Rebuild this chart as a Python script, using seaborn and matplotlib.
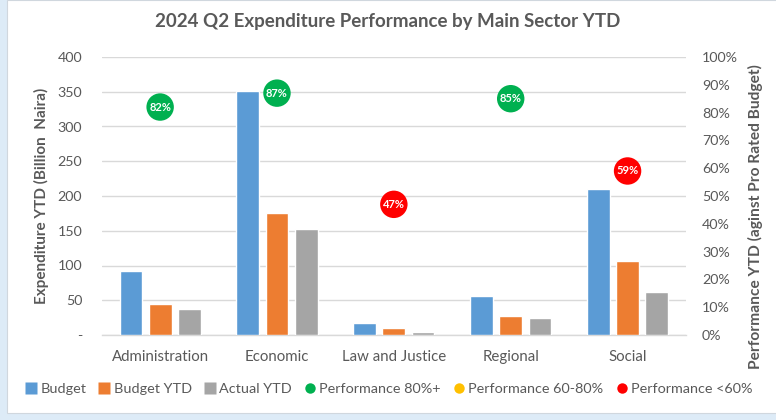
import matplotlib
matplotlib.use("Agg")
import matplotlib.pyplot as plt
from matplotlib.patches import Rectangle
from matplotlib.lines import Line2D
import seaborn as sns
import numpy as np
import pandas as pd

categories = ["Administration", "Economic", "Law and Justice", "Regional", "Social"]
budget = [92, 351, 17, 56, 210]
budget_ytd = [45, 175, 10, 28, 106]
actual_ytd = [37, 153, 4, 25, 62]
performance = [82, 87, 47, 85, 59]
series_names = ["Budget", "Budget YTD", "Actual YTD"]
perf_names = ["Performance 80%+", "Performance 60-80%", "Performance <60%"]
left_ticks = [0, 50, 100, 150, 200, 250, 300, 350, 400]
left_tick_labels = ["-", "50", "100", "150", "200", "250", "300", "350", "400"]
right_ticks = list(range(0, 101, 10))

bar_colors = ["#5B9BD5", "#ED7D31", "#A5A5A5"]
perf_colors = {"Performance 80%+": "#00B050", "Performance 60-80%": "#FFC000",
               "Performance <60%": "#FF0000"}
text_color = "#595959"
grid_color = "#D9D9D9"

sns.set_theme(style="white")
plt.rcParams["font.family"] = ["Lato", "DejaVu Sans"]

df = pd.DataFrame({
    "Sector": categories * 3,
    "Series": sum([[s] * len(categories) for s in series_names], []),
    "Value": budget + budget_ytd + actual_ytd,
})

def bucket(p):
    if p >= 80:
        return perf_names[0]
    if p >= 60:
        return perf_names[1]
    return perf_names[2]

perf_df = pd.DataFrame({
    "pos": np.arange(len(categories)),
    "Performance": performance,
    "Bucket": [bucket(p) for p in performance],
})

fig = plt.figure(figsize=(7.76, 4.2), dpi=100)
fig.patch.set_facecolor("#DDEBF7")
bg = Rectangle((7 / 776, 1 - 413 / 420), 1.0, 413 / 420,
               transform=fig.transFigure, facecolor="white",
               edgecolor="#D0D7DE", linewidth=0.8, zorder=-10)
fig.add_artist(bg)

ax = fig.add_axes([101.7 / 776, 1 - 335 / 420, (686 - 101.7) / 776, (335 - 57) / 420])
ax.set_facecolor("none")
sns.barplot(data=df, x="Sector", y="Value", hue="Series", hue_order=series_names,
            palette=bar_colors, width=0.75, gap=0.22, ax=ax, legend=False,
            saturation=1, zorder=3)
ax.set_ylim(0, 400)
ax.set_yticks(left_ticks)
ax.set_yticklabels(left_tick_labels)
ax.yaxis.grid(True, color=grid_color, linewidth=1.0, zorder=0)
ax.set_axisbelow(True)
for s in ["top", "right", "left"]:
    ax.spines[s].set_visible(False)
ax.spines["bottom"].set_color(grid_color)
ax.spines["bottom"].set_linewidth(1.0)
ax.tick_params(axis="y", length=0, labelsize=10.3, labelcolor=text_color, pad=14)
ax.tick_params(axis="x", length=0, labelsize=10.8, labelcolor=text_color, pad=10.5)
ax.set_xlabel("")
ax.set_ylabel("Expenditure YTD (Billion  Naira)", fontsize=11, fontweight="bold",
              color=text_color, labelpad=6)

ax2 = ax.twinx()
sns.scatterplot(data=perf_df, x="pos", y="Performance", hue="Bucket",
                palette=perf_colors, s=390, edgecolor="none", ax=ax2,
                legend=False, zorder=5)
for i, p in enumerate(performance):
    ax2.text(i, p, f"{p}%", ha="center", va="center", color="white",
             fontsize=8, fontweight="bold", zorder=6)
ax2.set_ylim(0, 100)
ax2.set_yticks(right_ticks)
ax2.set_yticklabels([f"{t}%" for t in right_ticks])
for s in ["top", "right", "left", "bottom"]:
    ax2.spines[s].set_visible(False)
ax2.tick_params(axis="y", length=0, labelsize=10.3, labelcolor=text_color, pad=11.5)
ax2.set_ylabel("Performance YTD (aginst Pro Rated Budget)", fontsize=11.2,
               fontweight="bold", color=text_color)
ax2.yaxis.set_label_coords(1.106, (335 - 217) / 278)
ax2.set_xlabel("")
ax.set_xlim(-0.5, len(categories) - 0.5)

fig.text(0.5, 1 - 22 / 420, "2024 Q2 Expenditure Performance by Main Sector YTD",
         ha="center", va="center", fontsize=13.5, fontweight="bold", color=text_color)

handles = [Line2D([0], [0], marker="s", linestyle="none", markersize=8,
                  markerfacecolor=c, markeredgecolor="none") for c in bar_colors]
handles += [Line2D([0], [0], marker="o", linestyle="none", markersize=7.5,
                   markerfacecolor=perf_colors[n], markeredgecolor="none") for n in perf_names]
leg = fig.legend(handles, series_names + perf_names, loc="center",
                 bbox_to_anchor=(0.5, 1 - 389 / 420), ncol=6, frameon=False,
                 fontsize=10.4, handletextpad=0.15, columnspacing=0.75, handlelength=1.0)
for t in leg.get_texts():
    t.set_color(text_color)

fig.savefig("out.png", dpi=100, facecolor=fig.get_facecolor())
